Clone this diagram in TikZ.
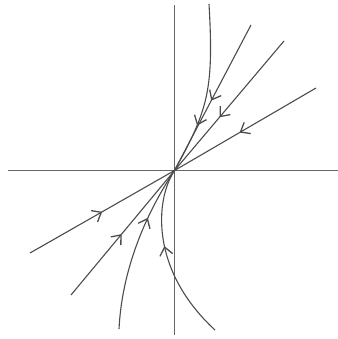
\documentclass[tikz,border=0pt]{standalone}
\usetikzlibrary{arrows.meta,decorations.markings}
\begin{document}
\begin{tikzpicture}[x=0.5pt,y=-0.5pt,
  axis/.style={draw=black!60, line width=0.7pt},
  traj/.style={draw=black!70, line width=0.55pt},
  tip/.style={decoration={markings, mark=at position #1 with {\arrow{Straight Barb[length=4pt,width=6.5pt,line width=0.65pt]}}}, postaction={decorate}}]
\useasboundingbox (0,0) rectangle (338,339);
\coordinate (O) at (174.5,170.5);
\coordinate (xl) at (8,170.5);
\coordinate (xr) at (338,170.5);
\coordinate (yt) at (174.5,5);
\coordinate (yb) at (174.5,335);
\draw[axis] (xl) -- (xr);
\draw[axis] (yt) -- (yb);
% straight trajectories
\coordinate (s2) at (251,25);
\coordinate (s3) at (284,41);
\coordinate (s4) at (316,88);
\coordinate (s5) at (30,253);
\coordinate (s6) at (71,295);
\draw[traj, tip=0.52] (s2) -- (O);
\draw[traj, tip=0.59] (s3) -- (O);
\draw[traj, tip=0.54] (s4) -- (O);
\draw[traj, tip=0.5] (s5) -- (O);
\draw[traj, tip=0.49] (s6) -- (O);
% curved trajectories
\coordinate (c1) at (209,4);
\coordinate (c7) at (119,329);
\coordinate (c8) at (215,330);
\draw[traj, tip=0.71] (c1) .. controls (214,90) and (208,110) .. (O);
\draw[traj, tip=0.68] (c7) .. controls (122,270) and (145,215) .. (O);
\draw[traj, tip=0.56] (c8) .. controls (150,270) and (155,200) .. (O);
\end{tikzpicture}
\end{document}
